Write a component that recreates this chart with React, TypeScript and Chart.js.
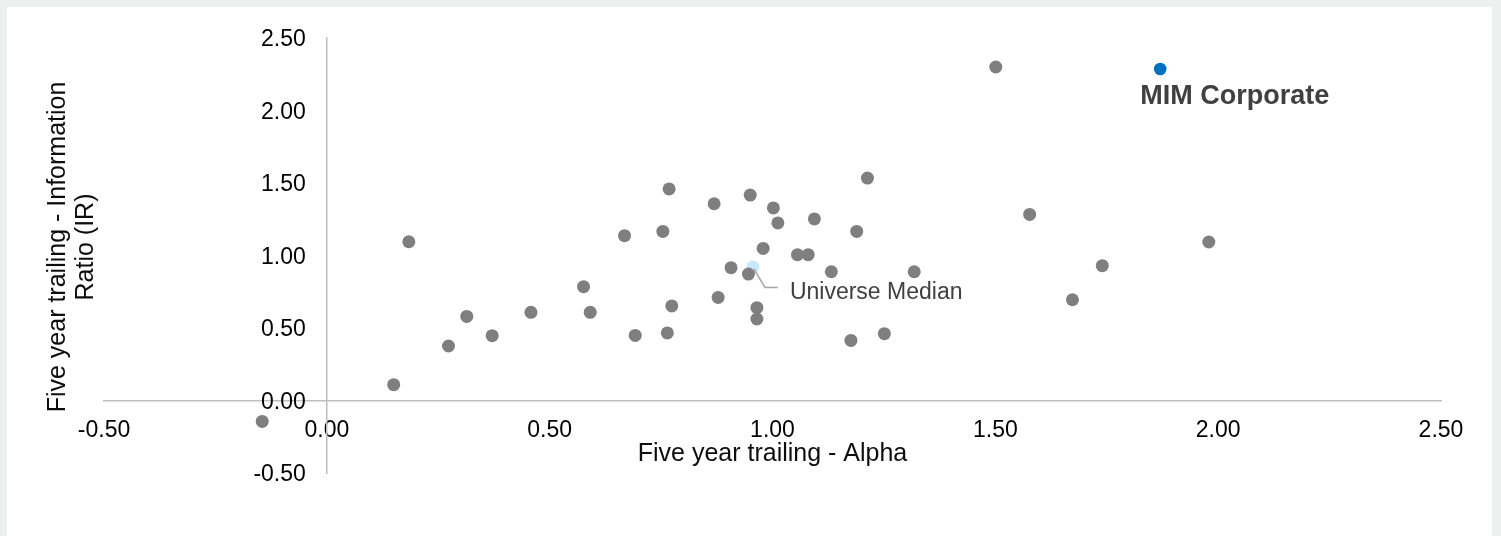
import React, { useEffect, useRef } from 'react';
import { Chart, registerables } from 'chart.js';

Chart.register(...registerables);

// ---- data ----
const peerAlpha = [
  -0.145, 0.15, 0.273, 0.314, 0.371, 0.458, 0.184, 0.576, 0.591, 0.668,
  0.692, 0.754, 0.764, 0.768, 0.774, 0.869, 0.878, 0.907, 0.946, 0.95,
  0.965, 0.965, 0.979, 1.002, 1.012, 1.056, 1.08, 1.094, 1.132, 1.176,
  1.189, 1.213, 1.251, 1.318, 1.501, 1.577, 1.673, 1.74, 1.979,
];
const peerIR = [
  -0.144, 0.109, 0.376, 0.58, 0.447, 0.608, 1.095, 0.785, 0.608, 1.137,
  0.449, 1.166, 0.466, 1.459, 0.652, 1.357, 0.711, 0.916, 0.872, 1.417,
  0.64, 0.562, 1.049, 1.328, 1.225, 1.006, 1.006, 1.252, 0.888, 0.414,
  1.166, 1.534, 0.461, 0.888, 2.3, 1.283, 0.695, 0.93, 1.093,
];
const medianAlpha = [0.956];
const medianIR = [0.921];
const mimAlpha = [1.87];
const mimIR = [2.286];

const xTickValues = [-0.5, 0, 0.5, 1, 1.5, 2, 2.5];
const yTickValues = [-0.5, 0, 0.5, 1, 1.5, 2, 2.5];

const xTitle = 'Five year trailing - Alpha';
const yTitleLines = ['Five year trailing - Information', 'Ratio (IR)'];
const medianLabel = 'Universe Median';
const mimLabel = 'MIM Corporate';

const FONT = '"Liberation Sans", Arial, Helvetica, sans-serif';

const zip = (xs: number[], ys: number[]) => xs.map((x, i) => ({ x, y: ys[i] }));

// Move the axes so that they cross at (0, 0), like the reference.
const crossAxesPlugin = {
  id: 'crossAxes',
  afterLayout(chart: any) {
    const xs = chart.scales.x;
    const ys = chart.scales.y;
    const x0 = xs.getPixelForValue(0);
    const y0 = ys.getPixelForValue(0);
    ys.left = 0;
    ys.right = x0;
    ys.width = x0;
    xs.top = y0;
    xs.bottom = chart.height;
    xs.height = chart.height - y0;
  },
};

const textPlugin = {
  id: 'texts',
  afterDraw(chart: any) {
    const ctx = chart.ctx as CanvasRenderingContext2D;
    const area = chart.chartArea;
    ctx.save();
    // x title
    ctx.fillStyle = '#0d0d0d';
    ctx.font = `25px ${FONT}`;
    ctx.textAlign = 'center';
    ctx.textBaseline = 'alphabetic';
    ctx.fillText(xTitle, (area.left + area.right) / 2, 461);
    // y title (rotated)
    const yBases = [65, 93];
    yTitleLines.forEach((line, i) => {
      ctx.save();
      ctx.translate(yBases[i], 247);
      ctx.rotate(-Math.PI / 2);
      ctx.fillText(line, 0, 0);
      ctx.restore();
    });

    // Universe Median label with leader line
    const med = chart.getDatasetMeta(1).data[0];
    if (med) {
      ctx.strokeStyle = '#a6a6a6';
      ctx.lineWidth = 1.5;
      ctx.beginPath();
      ctx.moveTo(med.x + 1, med.y + 2);
      ctx.lineTo(med.x + 12, med.y + 20.5);
      ctx.lineTo(med.x + 25, med.y + 20.5);
      ctx.stroke();
      ctx.fillStyle = '#404040';
      ctx.font = `23px ${FONT}`;
      ctx.textAlign = 'left';
      ctx.fillText(medianLabel, med.x + 37, med.y + 31.7);
    }
    // MIM label
    const mim = chart.getDatasetMeta(2).data[0];
    if (mim) {
      ctx.fillStyle = '#404040';
      ctx.font = `bold 27px ${FONT}`;
      ctx.textAlign = 'left';
      ctx.fillText(mimLabel, mim.x - 20, mim.y + 34.7);
    }
    ctx.restore();
  },
};

export default function App() {
  const canvasRef = useRef<HTMLCanvasElement | null>(null);

  useEffect(() => {
    if (!canvasRef.current) return;
    const tickFont = { family: FONT, size: 23 };
    const chart = new Chart(canvasRef.current, {
      type: 'scatter',
      data: {
        datasets: [
          {
            label: 'Peers',
            data: zip(peerAlpha, peerIR),
            backgroundColor: '#7f7f7f',
            borderWidth: 0,
            pointRadius: 6.5,
          },
          {
            label: medianLabel,
            data: zip(medianAlpha, medianIR),
            backgroundColor: '#c6e9fb',
            borderWidth: 0,
            pointRadius: 6.5,
          },
          {
            label: mimLabel,
            data: zip(mimAlpha, mimIR),
            backgroundColor: '#0070c0',
            borderWidth: 0,
            pointRadius: 6.3,
          },
        ],
      },
      options: {
        animation: false,
        responsive: false,
        devicePixelRatio: 1,
        layout: { padding: { left: 104, right: 60, top: 38, bottom: 63 } },
        plugins: { legend: { display: false }, tooltip: { enabled: false } },
        scales: {
          x: {
            type: 'linear',
            position: 'bottom',
            min: -0.5,
            max: 2.5,
            afterBuildTicks: (s: any) => {
              s.ticks = xTickValues.map((v) => ({ value: v }));
            },
            afterFit: (s: any) => {
              s.height = 0;
            },
            grid: { display: false, drawTicks: false },
            border: { display: true, color: '#bfbfbf', width: 1.5 },
            ticks: {
              padding: 16,
              color: '#000000',
              font: tickFont,
              autoSkip: false,
              maxRotation: 0,
              callback: (v: any) => Number(v).toFixed(2),
            },
          },
          y: {
            type: 'linear',
            position: 'left',
            min: -0.5,
            max: 2.5,
            afterBuildTicks: (s: any) => {
              s.ticks = yTickValues.map((v) => ({ value: v }));
            },
            afterFit: (s: any) => {
              s.width = 0;
            },
            grid: { display: false, drawTicks: false },
            border: { display: true, color: '#bfbfbf', width: 1.5 },
            ticks: {
              padding: 21,
              labelOffset: 2,
              color: '#000000',
              font: tickFont,
              autoSkip: false,
              callback: (v: any) => Number(v).toFixed(2),
            },
          },
        },
      },
      plugins: [crossAxesPlugin, textPlugin],
    } as any);
    return () => chart.destroy();
  }, []);

  return (
    <div
      style={{
        position: 'absolute',
        left: 0,
        top: 0,
        width: 1501,
        height: 536,
        background: '#eef0ef',
        overflow: 'hidden',
      }}
    >
      <div
        style={{
          position: 'absolute',
          left: 7,
          top: 7,
          width: 1485,
          height: 540,
          background: '#ffffff',
        }}
      />
      <canvas
        ref={canvasRef}
        width={1501}
        height={536}
        style={{ position: 'absolute', left: 0, top: 0, width: 1501, height: 536 }}
      />
    </div>
  );
}
